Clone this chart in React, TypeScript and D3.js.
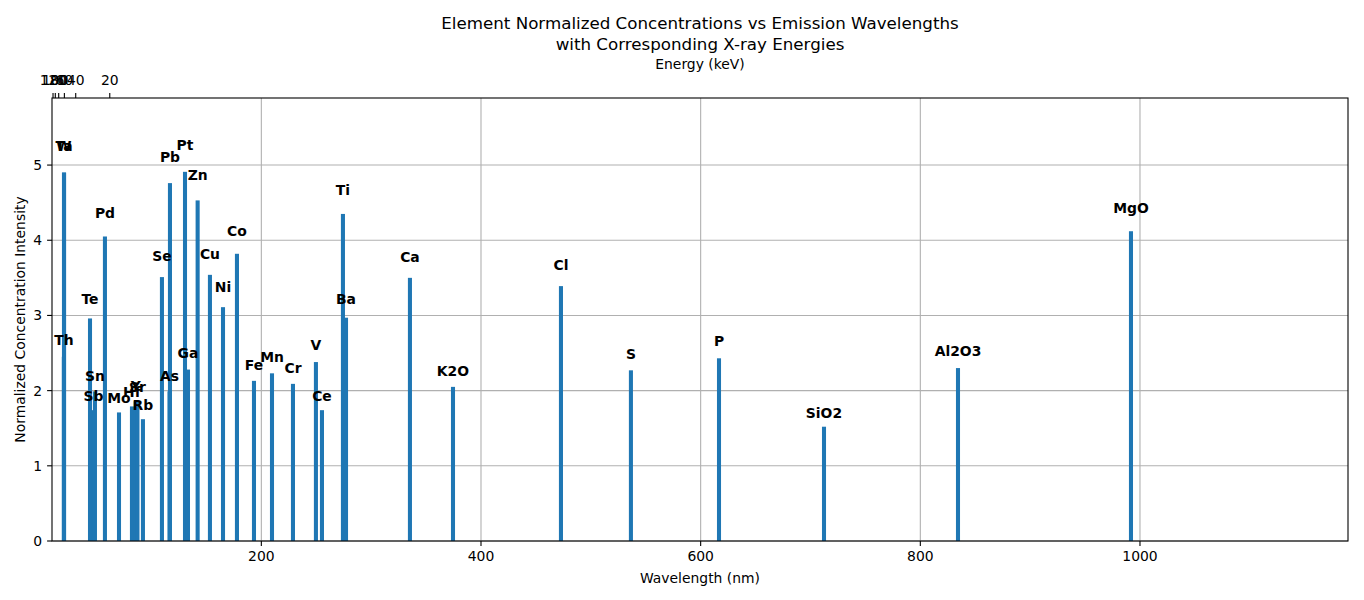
import React from "react";
import * as d3 from "d3";

const elements = ["Th","W","Ta","Te","Sb","Sn","Pd","Mo","Hf","Y","Sr","Rb","Se","As","Pb","Pt","Ga","Zn","Cu","Ni","Co","Fe","Mn","Cr","V","Ce","Ti","Ba","Ca","K2O","Cl","S","P","SiO2","Al2O3","MgO"];
const wavelengths = [20.2,20.3,20.4,44.0,47.2,48.5,57.6,70.4,82.2,85.6,87.2,92.2,109.5,116.4,116.8,130.5,133.2,142.0,153.2,165.1,177.8,193.3,209.7,228.8,249.7,255.2,274.3,277.1,335.3,374.5,472.8,536.5,616.7,712.3,834.3,991.8];
const intensities = [2.45,4.9,4.9,2.96,1.74,1.99,4.05,1.71,1.79,1.86,1.85,1.62,3.51,1.99,4.76,4.91,2.28,4.53,3.54,3.11,3.82,2.13,2.23,2.09,2.38,1.74,4.35,2.97,3.5,2.05,3.39,2.27,2.43,1.52,2.3,4.12];
const xTicks = [200,400,600,800,1000];
const yTicks = [0,1,2,3,4,5];
const energyTicks = [20,40,60,80,100,120];
const barWidth = 3.7;
const xDomain = [9.4, 1189.4];

const W = 1364, H = 600;
const L = 52, R = 1348, T = 98, B = 541;
const font = "DejaVu Sans, sans-serif";

export default function App() {
  const x = d3.scaleLinear().domain(xDomain).range([L, R]);
  const yMax = (d3.max(intensities) as number) * 1.2;
  const y = d3.scaleLinear().domain([0, yMax]).range([B, T]);
  const tick = 4.9;
  return (
    <svg width={W} height={H} style={{ position: "absolute", left: 0, top: 0, background: "#fff" }} fontFamily={font}>
      <rect x={0} y={0} width={W} height={H} fill="#fff" />
      {/* grid */}
      {xTicks.map((t) => (
        <line key={"gx" + t} x1={x(t)} x2={x(t)} y1={T} y2={B} stroke="#b0b0b0" strokeWidth={1.1} />
      ))}
      {yTicks.map((t) => (
        <line key={"gy" + t} x1={L} x2={R} y1={y(t)} y2={y(t)} stroke="#b0b0b0" strokeWidth={1.1} />
      ))}
      {/* bars */}
      {elements.map((e, i) => (
        <rect key={"b" + e} x={x(wavelengths[i] - barWidth / 2)} width={x(wavelengths[i] + barWidth / 2) - x(wavelengths[i] - barWidth / 2)}
          y={y(intensities[i])} height={B - y(intensities[i])} fill="#1f77b4" />
      ))}
      {/* labels */}
      {elements.map((e, i) => (
        <text key={"t" + e} x={x(wavelengths[i])} y={y(intensities[i] * 1.05) - 3} textAnchor="middle" fontSize={13.9} fontWeight="bold" fill="#000">{e}</text>
      ))}
      {/* spines */}
      <rect x={L} y={T} width={R - L} height={B - T} fill="none" stroke="#000" strokeWidth={1.1} />
      {/* bottom axis */}
      {xTicks.map((t) => (
        <g key={"xt" + t}>
          <line x1={x(t)} x2={x(t)} y1={B} y2={B + tick} stroke="#000" strokeWidth={1.1} />
          <text x={x(t)} y={B + tick + 4.9 + 10.5} textAnchor="middle" fontSize={13.9}>{t}</text>
        </g>
      ))}
      {yTicks.map((t) => (
        <g key={"yt" + t}>
          <line x1={L - tick} x2={L} y1={y(t)} y2={y(t)} stroke="#000" strokeWidth={1.1} />
          <text x={L - tick - 4.9} y={y(t) + 5} textAnchor="end" fontSize={13.9}>{t}</text>
        </g>
      ))}
      {/* top axis: energy */}
      {energyTicks.map((t) => (
        <g key={"et" + t}>
          <line x1={x(1240 / t)} x2={x(1240 / t)} y1={T} y2={T - tick} stroke="#000" strokeWidth={1.1} />
          <text x={x(1240 / t)} y={T - tick - 4.9 - 3} textAnchor="middle" fontSize={13.9}>{t}</text>
        </g>
      ))}
      <text x={(L + R) / 2} y={69} textAnchor="middle" fontSize={13.9}>Energy (keV)</text>
      <text x={(L + R) / 2} y={29} textAnchor="middle" fontSize={16.7}>Element Normalized Concentrations vs Emission Wavelengths</text>
      <text x={(L + R) / 2} y={50} textAnchor="middle" fontSize={16.7}>with Corresponding X-ray Energies</text>
      <text x={(L + R) / 2} y={583} textAnchor="middle" fontSize={13.9}>Wavelength (nm)</text>
      <text transform={`translate(25,${(T + B) / 2}) rotate(-90)`} textAnchor="middle" fontSize={13.9}>Normalized Concentration Intensity</text>
    </svg>
  );
}
